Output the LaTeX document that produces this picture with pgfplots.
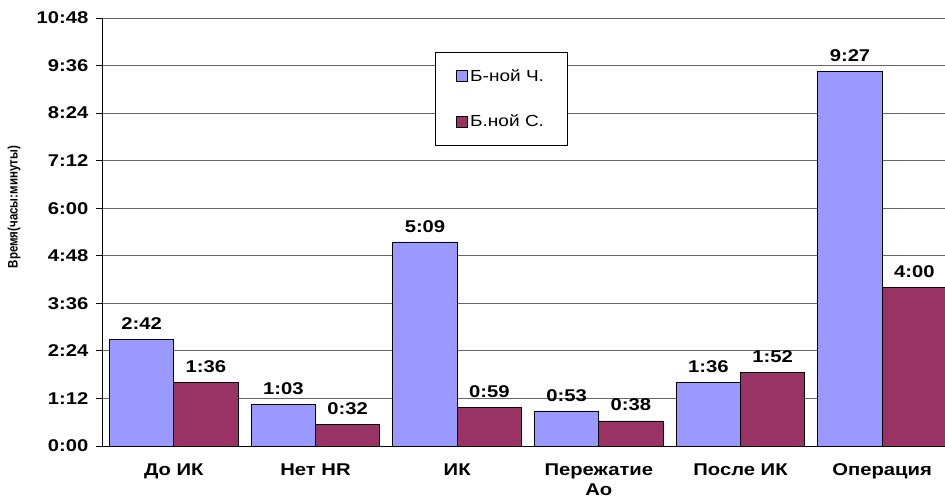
\documentclass[border=0pt]{standalone}
\usepackage{pgfplots}
\pgfplotsset{compat=1.18}
\usepackage{fontspec}
\setmainfont{Liberation Sans}[FakeStretch=1.19]
\newfontfamily\ylabfont{Liberation Sans}[FakeStretch=0.84]
\definecolor{cblue}{RGB}{153,153,255}
\definecolor{cred}{RGB}{153,51,102}
\begin{document}
\begin{tikzpicture}
\begin{axis}[
  scale only axis, width=850pt, height=428pt,
  ybar,
  xmin=-0.5, xmax=5.5, ymin=0, ymax=648,
  axis lines=left,
  axis line style={-, black, line width=1pt},
  tick align=outside,
  major tick length=7pt,
  tick style={black, line width=0.8pt},
  ytick={0,72,...,648},
  yticklabels={0:00,1:12,2:24,3:36,4:48,6:00,7:12,8:24,9:36,10:48},
  ymajorgrids,
  major grid style={black!60, line width=0.8pt},
  y tick label style={font=\fontsize{17}{17}\selectfont\bfseries, xshift=-4pt},
  xtick={0,1,2,3,4,5},
  xticklabels={До ИК, Нет HR, ИК, {Пережатие\\Ао}, После ИК, Операция},
  x tick label style={font=\fontsize{17}{20}\selectfont\bfseries, align=center, yshift=-7pt},
  xtick style={draw=none},
  extra x ticks={0.5,1.5,2.5,3.5,4.5},
  extra x tick labels={},
  extra x tick style={grid=none, tick style={draw=black, line width=0.8pt}},
  bar width=0.454,
  point meta=explicit symbolic,
  nodes near coords,
  nodes near coords style={font=\fontsize{17}{17}\selectfont\bfseries, anchor=south, yshift=6pt},
  ylabel={\ylabfont\fontsize{13.7}{14}\selectfont\bfseries Время(часы:минуты)},
  ylabel style={at={(rel axis cs:-0.1047,0.558)}, anchor=center},
  legend style={at={(0.3906,0.9206)}, anchor=north west, draw=black, line width=0.8pt, fill=white,
    font=\fontsize{16}{16}\selectfont, row sep=28pt, inner xsep=21pt, inner ysep=15pt,
    cells={anchor=west}},
]
\addplot[fill=cblue, draw=black, line width=0.8pt, bar shift=-0.227,
  legend image code/.code={\draw[fill=cblue, draw=black, line width=0.8pt] (0pt,-5.5pt) rectangle (11pt,5.5pt);}]
  coordinates {(0,162)[2:42] (1,63)[1:03] (2,309)[5:09] (3,53)[0:53] (4,96)[1:36] (5,567)[9:27]};
\addplot[fill=cred, draw=black, line width=0.8pt, bar shift=0.227,
  legend image code/.code={\draw[fill=cred, draw=black, line width=0.8pt] (0pt,-5.5pt) rectangle (11pt,5.5pt);}]
  coordinates {(0,96)[1:36] (1,32)[0:32] (2,59)[0:59] (3,38)[0:38] (4,112)[1:52] (5,240)[4:00]};
\legend{Б-ной Ч., Б.ной С.}
\end{axis}
\pgfresetboundingbox
\path ([xshift=-103pt,yshift=-55pt]current axis.south west) rectangle ([xshift=842pt,yshift=18pt]current axis.north west);
\end{tikzpicture}
\end{document}
